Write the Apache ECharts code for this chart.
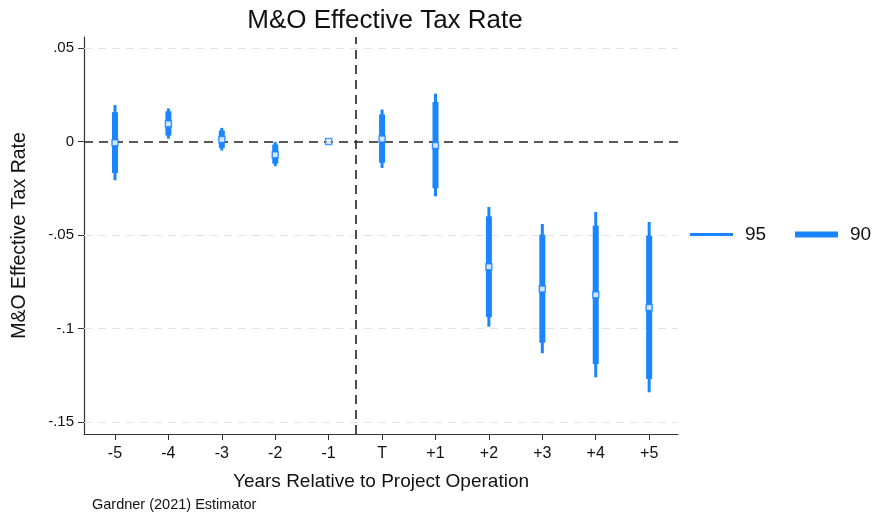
<!DOCTYPE html>
<html>
<head>
<meta charset="utf-8">
<title>M&amp;O Effective Tax Rate</title>
<script src="https://cdn.jsdelivr.net/npm/echarts@6/dist/echarts.min.js"></script>
<style>
  html, body { margin: 0; padding: 0; background: #ffffff; }
  #chart { width: 875px; height: 521px; }
</style>
</head>
<body>
<div id="chart"></div>
<script>
// Event-study coefficients by year relative to project operation
const categories = ['-5', '-4', '-3', '-2', '-1', 'T', '+1', '+2', '+3', '+4', '+5'];
const estimates  = [-0.0007, 0.0095, 0.0011, -0.0071, 0.0, 0.0014, -0.0021, -0.0670, -0.0789, -0.0820, -0.0888];
const ci95Low    = [-0.0207, 0.0016, -0.0048, -0.0132, 0.0, -0.0141, -0.0293, -0.0990, -0.1132, -0.1261, -0.1341];
const ci95High   = [0.0195, 0.0177, 0.0073, -0.0002, 0.0, 0.0171, 0.0256, -0.0350, -0.0441, -0.0377, -0.0430];
const ci90Low    = [-0.0168, 0.0032, -0.0034, -0.0118, 0.0, -0.0114, -0.0250, -0.0939, -0.1076, -0.1190, -0.1270];
const ci90High   = [0.0157, 0.0162, 0.0059, -0.0016, 0.0, 0.0145, 0.0211, -0.0400, -0.0498, -0.0450, -0.0504];
const yTickValues = [-0.15, -0.1, -0.05, 0, 0.05];
const yTickLabels = ['-.15', '-.1', '-.05', '0', '.05'];
const treatmentBreak = 4.5;

const BLUE = '#1a85ff';
const FONT = 'Liberation Sans, Arial, sans-serif';
const xIdx = categories.map((_, i) => i);

function rangeData(lo, hi) {
  return lo.map((v, i) => [i, v, hi[i]]);
}

function intervalRenderer(width) {
  return function (params, api) {
    const top = api.coord([api.value(0), api.value(2)]);
    const bottom = api.coord([api.value(0), api.value(1)]);
    return {
      type: 'line',
      shape: { x1: top[0], y1: top[1], x2: bottom[0], y2: bottom[1] },
      style: { stroke: BLUE, lineWidth: width, lineCap: 'butt' }
    };
  };
}

const chart = echarts.init(document.getElementById('chart'), null, { renderer: 'canvas' });

chart.setOption({
  backgroundColor: '#ffffff',
  animation: false,
  textStyle: { fontFamily: FONT },
  title: {
    text: 'M&O Effective Tax Rate',
    left: 380, top: 3, textAlign: 'center',
    textStyle: { fontFamily: FONT, fontSize: 26, fontWeight: 'normal', color: '#111' }
  },
  legend: [
    {
      data: [{ name: '95', icon: 'rect' }],
      left: 690, top: 225, padding: 0,
      itemWidth: 43, itemHeight: 3,
      textStyle: { fontFamily: FONT, fontSize: 19, color: '#111', padding: [0, 0, 0, 7] }
    },
    {
      data: [{ name: '90', icon: 'rect' }],
      left: 795, top: 225, padding: 0,
      itemWidth: 43, itemHeight: 6,
      textStyle: { fontFamily: FONT, fontSize: 19, color: '#111', padding: [0, 0, 0, 7] }
    }
  ],
  grid: { left: 84, top: 37, width: 594, height: 397, containLabel: false },
  xAxis: {
    type: 'value',
    min: -0.58, max: 10.54,
    name: 'Years Relative to Project Operation',
    nameLocation: 'middle', nameGap: 38,
    nameTextStyle: { fontFamily: FONT, fontSize: 19, color: '#111' },
    axisLine: { show: true, onZero: false, lineStyle: { color: '#333', width: 1.2 } },
    axisTick: { show: true, length: 6, lineStyle: { color: '#333' }, customValues: xIdx },
    axisLabel: {
      customValues: xIdx,
      formatter: v => categories[Math.round(v)],
      fontFamily: FONT, fontSize: 16, color: '#111', margin: 12
    },
    splitLine: { show: false }
  },
  yAxis: {
    type: 'value',
    min: -0.1564, max: 0.0559,
    name: 'M&O Effective Tax Rate',
    nameLocation: 'middle', nameGap: 54,
    nameTextStyle: { fontFamily: FONT, fontSize: 19.5, color: '#111' },
    axisLine: { show: true, onZero: false, lineStyle: { color: '#333', width: 1.2 } },
    axisTick: { show: true, length: 6, lineStyle: { color: '#333' }, customValues: yTickValues },
    axisLabel: {
      customValues: yTickValues,
      formatter: v => yTickLabels[yTickValues.findIndex(t => Math.abs(t - v) < 1e-9)],
      fontFamily: FONT, fontSize: 15, color: '#111', margin: 10
    },
    splitLine: { show: false }
  },
  series: [
    {
      // reference lines: light horizontal grid, dashed zero line and treatment break
      type: 'line',
      data: [],
      silent: true,
      z: 1,
      markLine: {
        z: 1,
        symbol: 'none',
        silent: true,
        label: { show: false },
        data: yTickValues.filter(v => v !== 0).map(v => ({
          yAxis: v, lineStyle: { color: '#e4e4e4', type: [8, 6], width: 1 }
        })).concat([
          { yAxis: 0, lineStyle: { color: '#222', type: [9, 6], width: 1.6 } },
          { xAxis: treatmentBreak, lineStyle: { color: '#222', type: [9, 6], width: 1.6 } }
        ])
      }
    },
    {
      name: '95',
      type: 'custom',
      itemStyle: { color: BLUE },
      renderItem: intervalRenderer(3),
      encode: { x: 0, y: [1, 2] },
      data: rangeData(ci95Low, ci95High),
      z: 3
    },
    {
      name: '90',
      type: 'custom',
      itemStyle: { color: BLUE },
      renderItem: intervalRenderer(6),
      encode: { x: 0, y: [1, 2] },
      data: rangeData(ci90Low, ci90High),
      z: 4
    },
    {
      name: 'estimate',
      type: 'scatter',
      symbol: 'rect',
      symbolSize: 6,
      itemStyle: { color: '#ffffff', borderColor: BLUE, borderWidth: 1.5 },
      data: estimates.map((v, i) => [i, v]),
      z: 5
    }
  ],
  graphic: [
    {
      type: 'text',
      left: 92, top: 497,
      style: { text: 'Gardner (2021) Estimator', fontFamily: FONT, fontSize: 14.5, fill: '#111' }
    }
  ]
});
</script>
</body>
</html>
